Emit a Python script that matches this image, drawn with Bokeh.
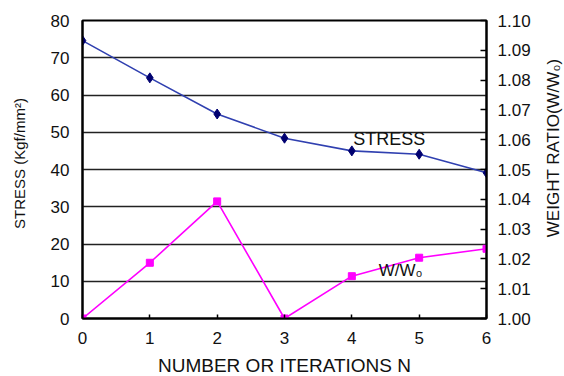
import math
from bokeh.plotting import figure
from bokeh.layouts import row
from bokeh.models import Range1d, LinearAxis, FixedTicker, PrintfTickFormatter, ColumnDataSource, Label
from bokeh.core.properties import value
from bokeh.embed import file_html
from bokeh.resources import INLINE

iterations = [0, 1, 2, 3, 4, 5, 6]
stress = [74.6, 64.6, 54.9, 48.4, 45.0, 44.1, 39.1]
weight_ratio = [1.000, 1.0187, 1.0393, 1.000, 1.0142, 1.0204, 1.0234]
stress_ticks = [0, 10, 20, 30, 40, 50, 60, 70, 80]
ratio_ticks = [1.00, 1.01, 1.02, 1.03, 1.04, 1.05, 1.06, 1.07, 1.08, 1.09, 1.10]
x_ticks = [0, 1, 2, 3, 4, 5, 6]
left_title = ["STRESS (Kgf/mm²)"]
right_title = ["WEIGHT RATIO(W/W₀)"]

FONT = "Liberation Sans"

p = figure(frame_width=404, frame_height=298, min_border_left=52, min_border_right=56,
           min_border_top=20, min_border_bottom=50,
           x_range=Range1d(0, 6), y_range=Range1d(0, 80),
           output_backend="svg", toolbar_location=None)
p.extra_y_ranges = {"w": Range1d(1.00, 1.10)}

p.outline_line_color = "black"
p.outline_line_width = 2
p.xgrid.visible = False
p.ygrid.ticker = FixedTicker(ticks=stress_ticks)
p.ygrid.grid_line_color = "#222222"
p.ygrid.grid_line_width = 1.6

# left axis
ya = p.yaxis[0]
ya.ticker = FixedTicker(ticks=stress_ticks)
ya.major_tick_in = 0
ya.major_tick_out = 0
ya.minor_tick_in = 0
ya.minor_tick_out = 0
ya.major_label_standoff = 13

# bottom axis
xa = p.xaxis[0]
xa.ticker = FixedTicker(ticks=x_ticks)
xa.major_tick_in = 4
xa.major_tick_out = 0
xa.minor_tick_in = 0
xa.minor_tick_out = 0
xa.axis_label = "NUMBER OR ITERATIONS N"
xa.major_label_standoff = 13
xa.axis_label_standoff = 8

# right axis (ticks + labels)
ra = LinearAxis(y_range_name="w", ticker=FixedTicker(ticks=ratio_ticks),
                formatter=PrintfTickFormatter(format="%.2f"))
ra.major_tick_in = 6
ra.major_tick_out = 0
ra.minor_tick_in = 0
ra.minor_tick_out = 0
ra.major_label_standoff = 11
p.add_layout(ra, "right")

for ax in [ya, xa, ra]:
    ax.axis_line_color = "black"
    ax.axis_line_width = 2
    ax.major_tick_line_color = "black"
    ax.major_tick_line_width = 1.5
    ax.major_label_text_font = FONT
    ax.major_label_text_font_size = "17px"
    ax.major_label_text_color = "#111111"
    ax.axis_label_text_font = FONT
    ax.axis_label_text_font_size = "16px"
    ax.axis_label_text_font_style = "normal"
    ax.axis_label_text_color = "#111111"
xa.axis_label_text_font_size = "19px"

src_s = ColumnDataSource(dict(x=iterations, y=stress))
src_w = ColumnDataSource(dict(x=iterations, y=weight_ratio))

p.line("x", "y", source=src_s, line_color="#3040b0", line_width=1.6)
p.scatter("x", "y", source=src_s, marker="diamond", size=10, fill_color="#000070", line_color="#000070")

p.line("x", "y", source=src_w, y_range_name="w", line_color="#ff00ff", line_width=1.6)
p.scatter("x", "y", source=src_w, y_range_name="w", marker="square", size=7,
          fill_color="#ff00ff", line_color="#ff00ff")

p.add_layout(Label(x=4.02, y=45.5, text="STRESS", text_font=FONT, text_font_size="18px",
                   text_color="#111111", text_baseline="bottom", text_align="left"))
p.add_layout(Label(x=4.40, y=10.3, text="W/W₀", text_font=FONT, text_font_size="17px",
                   text_color="#111111", text_baseline="bottom", text_align="left"))


def title_strip(width, x, y, label, size):
    s = figure(frame_width=width, frame_height=298, min_border_left=0, min_border_right=0,
               min_border_top=20, min_border_bottom=50,
               x_range=Range1d(0, 1), y_range=Range1d(0, 80),
               x_axis_type=None, y_axis_type=None,
               output_backend="svg", toolbar_location=None)
    s.grid.visible = False
    s.outline_line_color = None
    s.text(x=[x], y=[y], text=label, angle=math.pi / 2,
           text_align="center", text_baseline="middle",
           text_font=value(FONT), text_font_size=size, text_color="#111111")
    return s


p0 = title_strip(30, 0.617, 41.6, left_title, "15px")   # left axis title
p2 = title_strip(22, 0.5, 45.8, right_title, "17px")    # right axis title

layout = row(p0, p, p2)
open("out.html", "w").write(file_html(layout, INLINE))
